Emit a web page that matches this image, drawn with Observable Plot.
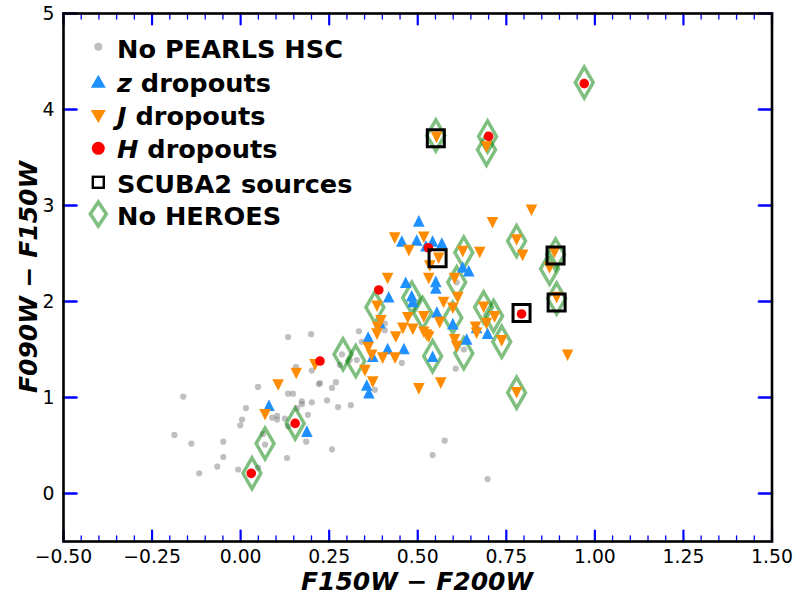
<!DOCTYPE html>
<html>
<head>
<meta charset="utf-8">
<script src="https://cdn.jsdelivr.net/npm/d3@7"></script>
<script src="https://cdn.jsdelivr.net/npm/@observablehq/plot@0.6"></script>
<style>
  html, body { margin: 0; padding: 0; background: white; }
  #wrap { position: relative; width: 793px; height: 595px; font-family: "DejaVu Sans", sans-serif; }
  #wrap svg { overflow: visible; }
  #wrap svg.overlay { position: absolute; left: 0; top: 0; pointer-events: none; }
</style>
</head>
<body>
<div id="wrap"></div>
<script>
// ---------------- data ----------------
const noPearlsHSC = [
  [-0.162,1.01],[-0.187,0.61],[-0.139,0.52],[-0.117,0.21],[-0.066,0.28],[-0.049,0.38],[-0.049,0.54],
  [-0.001,0.71],[0.004,0.77],[0.015,0.89],[0.049,1.11],[-0.007,0.25],[0.049,0.27],[0.069,0.51],
  [0.063,0.62],[0.089,0.79],[0.103,0.81],[0.103,0.77],[0.125,0.78],[0.134,0.70],[0.131,0.37],
  [0.185,0.54],[0.190,0.82],[0.159,0.89],[0.173,0.96],[0.173,0.93],[0.201,0.95],[0.244,0.97],
  [0.275,0.90],[0.311,0.92],[0.258,0.46],[0.221,1.14],[0.258,1.10],[0.269,1.16],[0.134,1.63],
  [0.199,1.66],[0.134,1.04],[0.148,1.04],[0.156,1.32],[0.201,1.28],[0.334,1.69],[0.286,1.45],
  [0.280,1.34],[0.328,1.39],[0.342,1.58],[0.379,1.08],[0.576,0.55],[0.542,0.40],[0.697,0.15],
  [0.607,1.30],[0.630,1.50],[0.455,1.36],[0.610,2.20],[0.407,1.77],[0.407,1.70],[0.308,1.39],
  [0.224,1.15]
];
const noHeroes = [
  [0.970,4.28],[0.551,3.73],[0.697,3.72],[0.694,3.58],[0.779,2.63],[0.872,2.34],[0.889,2.49],
  [0.892,2.03],[0.630,2.51],[0.610,2.20],[0.379,1.94],[0.483,2.04],[0.514,1.88],[0.599,1.83],
  [0.686,1.94],[0.714,1.85],[0.737,1.58],[0.542,1.43],[0.630,1.46],[0.289,1.45],[0.325,1.38],
  [0.779,1.05],[0.154,0.73],[0.069,0.52],[0.032,0.21]
];
const zDropouts = [
  [0.503,2.84],[0.455,2.63],[0.497,2.64],[0.542,2.63],[0.568,2.61],[0.523,2.58],[0.627,2.36],
  [0.644,2.32],[0.466,2.20],[0.551,2.21],[0.551,2.14],[0.418,2.05],[0.483,2.06],[0.486,2.00],
  [0.554,1.89],[0.599,1.77],[0.638,1.61],[0.666,1.73],[0.697,1.67],[0.360,1.63],[0.415,1.51],
  [0.461,1.51],[0.542,1.43],[0.373,1.43],[0.393,1.78],[0.356,1.13],[0.362,1.05],[0.080,0.92],
  [0.187,0.65]
];
const jDropouts = [
  [0.553,3.71],[0.694,3.61],[0.821,2.95],[0.711,2.82],[0.779,2.64],[0.796,2.48],[0.675,2.51],
  [0.627,2.52],[0.559,2.45],[0.886,2.51],[0.872,2.35],[0.892,2.04],[0.435,2.66],[0.517,2.67],
  [0.475,2.53],[0.534,2.37],[0.415,2.24],[0.531,2.24],[0.604,2.24],[0.613,2.04],[0.573,1.99],
  [0.599,1.93],[0.385,1.95],[0.396,1.80],[0.517,1.84],[0.472,1.83],[0.458,1.72],[0.486,1.71],
  [0.517,1.68],[0.531,1.63],[0.562,1.78],[0.387,1.73],[0.385,1.66],[0.438,1.63],[0.604,1.60],
  [0.610,1.53],[0.663,1.73],[0.666,1.67],[0.686,1.94],[0.717,1.84],[0.694,1.77],[0.737,1.59],
  [0.360,1.52],[0.370,1.44],[0.401,1.41],[0.436,1.41],[0.351,1.28],[0.373,1.16],[0.503,1.09],
  [0.565,1.15],[0.779,1.05],[0.923,1.44],[0.157,1.25],[0.106,1.13],[0.210,1.34],[0.069,0.82],
  [0.525,1.65]
];
const hDropouts = [
  [0.970,4.27],[0.700,3.72],[0.793,1.87],[0.530,2.56],[0.390,2.12],[0.224,1.38],[0.154,0.73],[0.030,0.21]
];
const scuba2 = [
  [0.551,3.70],[0.556,2.45],[0.889,2.48],[0.892,1.99],[0.793,1.88]
];
const xMajorTicks = [-0.5,-0.25,0,0.25,0.5,0.75,1,1.25,1.5];
const xMinorTicks = d3.range(-0.5, 1.5001, 0.05).map(v => +v.toFixed(2)).filter(v => !xMajorTicks.some(m => Math.abs(m - v) < 1e-6));
const yMajorTicks = [0,1,2,3,4,5];
const legendLabels = [
  ["", "No PEARLS HSC"],
  ["z", " dropouts"],
  ["J", " dropouts"],
  ["H", " dropouts"],
  ["", "SCUBA2 sources"],
  ["", "No HEROES"]
];
const xTitle = ["F150W", "F200W"];
const yTitle = ["F090W", "F150W"];

// ---------------- symbols ----------------
const triUp = {draw(ctx, size) { const h = Math.sqrt(size / Math.PI); ctx.moveTo(0, -h); ctx.lineTo(h, h); ctx.lineTo(-h, h); ctx.closePath(); }};
const triDown = {draw(ctx, size) { const h = Math.sqrt(size / Math.PI); ctx.moveTo(0, h); ctx.lineTo(h, -h); ctx.lineTo(-h, -h); ctx.closePath(); }};
const tickLine = {draw(ctx, l) { ctx.moveTo(0, 0); ctx.lineTo(0, -l); }};

const X = d => d[0], Y = d => d[1];
const tickMarks = (data, anchor, rotate, length, width) =>
  Plot.vector(data, {x: anchor === "top" || anchor === "bottom" ? d => d : undefined,
                     y: anchor === "left" || anchor === "right" ? d => d : undefined,
                     frameAnchor: anchor, rotate, length, anchor: "start",
                     shape: tickLine, stroke: "blue", strokeWidth: width, fill: "none"});

const plot = Plot.plot({
  width: 793, height: 595,
  marginLeft: 63, marginRight: 21.5, marginTop: 13, marginBottom: 54,
  x: {domain: [-0.5, 1.5]},
  y: {domain: [-0.5, 5]},
  style: {fontFamily: "DejaVu Sans", fontSize: "19px", color: "black", background: "white", overflow: "visible"},
  marks: [
    Plot.dot(noPearlsHSC, {x: X, y: Y, r: 3.1, fill: "gray", fillOpacity: 0.5}),
    Plot.dot(noHeroes, {x: X, y: Y, symbol: "diamond", r: 9.4, fill: "none", stroke: "green", strokeOpacity: 0.5, strokeWidth: 3.5}),
    Plot.dot(zDropouts, {x: X, y: Y, symbol: triUp, r: 5.8, fill: "dodgerblue"}),
    Plot.dot(jDropouts, {x: X, y: Y, symbol: triDown, r: 5.8, fill: "darkorange"}),
    Plot.dot(hDropouts, {x: X, y: Y, r: 4.8, fill: "red"}),
    Plot.dot(scuba2, {x: X, y: Y, symbol: "square", r: 9.6, fill: "none", stroke: "black", strokeWidth: 3}),
    tickMarks(xMajorTicks, "bottom", 0, 11, 2.2),
    tickMarks(xMinorTicks, "bottom", 0, 5.5, 1.3),
    tickMarks(xMajorTicks, "top", 180, 11, 2.2),
    tickMarks(xMinorTicks, "top", 180, 5.5, 1.3),
    tickMarks(yMajorTicks, "left", 90, 13, 2.6),
    tickMarks(yMajorTicks, "right", -90, 13, 2.6),
    Plot.frame({stroke: "black", strokeWidth: 2.6}),
    Plot.axisX(xMajorTicks, {tickSize: 0, tickPadding: 8, tickFormat: d3.format(".2f"), fontSize: 18.8, label: null}),
    Plot.axisY(yMajorTicks, {tickSize: 0, tickPadding: 9, tickFormat: d3.format("d"), fontSize: 18.8, label: null})
  ]
});
const wrap = document.getElementById("wrap");
wrap.appendChild(plot);

// ---------------- overlay: legend and axis titles ----------------
const ov = d3.select(wrap).append("svg").attr("class", "overlay").attr("width", 793).attr("height", 595)
  .style("font-family", "DejaVu Sans");

const legX = 98.3, legTextX = 117, rowY = [46.7, 81.7, 116, 148.3, 182.3, 214], baseY = [58.3, 91.7, 125, 158.3, 192.5, 225];
const g = ov.append("g");
// symbols
g.append("circle").attr("cx", legX).attr("cy", rowY[0]).attr("r", 4).attr("fill", "gray").attr("fill-opacity", 0.5);
g.append("path").attr("d", `M${legX},${rowY[1]-7}L${legX+7.5},${rowY[1]+6}L${legX-7.5},${rowY[1]+6}Z`).attr("fill", "dodgerblue");
g.append("path").attr("d", `M${legX},${rowY[2]+7}L${legX+7.5},${rowY[2]-6}L${legX-7.5},${rowY[2]-6}Z`).attr("fill", "darkorange");
g.append("circle").attr("cx", legX).attr("cy", rowY[3]).attr("r", 6.5).attr("fill", "red");
g.append("rect").attr("x", legX-5.5).attr("y", rowY[4]-5.5).attr("width", 11).attr("height", 11).attr("fill", "none").attr("stroke", "black").attr("stroke-width", 2.4);
g.append("path").attr("d", `M${legX},${rowY[5]-12}L${legX+8},${rowY[5]}L${legX},${rowY[5]+12}L${legX-8},${rowY[5]}Z`)
  .attr("fill", "none").attr("stroke", "green").attr("stroke-opacity", 0.5).attr("stroke-width", 3.5);
// labels
legendLabels.forEach(([it, rest], i) => {
  const t = g.append("text").attr("x", legTextX).attr("y", baseY[i]).attr("font-size", 25.6).attr("font-weight", "bold");
  if (it) t.append("tspan").attr("font-style", "italic").text(it);
  t.append("tspan").text(rest);
});

function mathTitle(sel, parts) {
  sel.append("tspan").attr("font-weight", "bold").attr("font-style", "italic").text(parts[0]);
  sel.append("tspan").attr("font-weight", "bold").text(" \u2212 ");
  sel.append("tspan").attr("font-weight", "bold").attr("font-style", "italic").text(parts[1]);
}
mathTitle(ov.append("text").attr("x", 417).attr("y", 590).attr("text-anchor", "middle").attr("font-size", 25), xTitle);
mathTitle(ov.append("text").attr("transform", "translate(37,277) rotate(-90)").attr("text-anchor", "middle").attr("font-size", 25), yTitle);
</script>
</body>
</html>
